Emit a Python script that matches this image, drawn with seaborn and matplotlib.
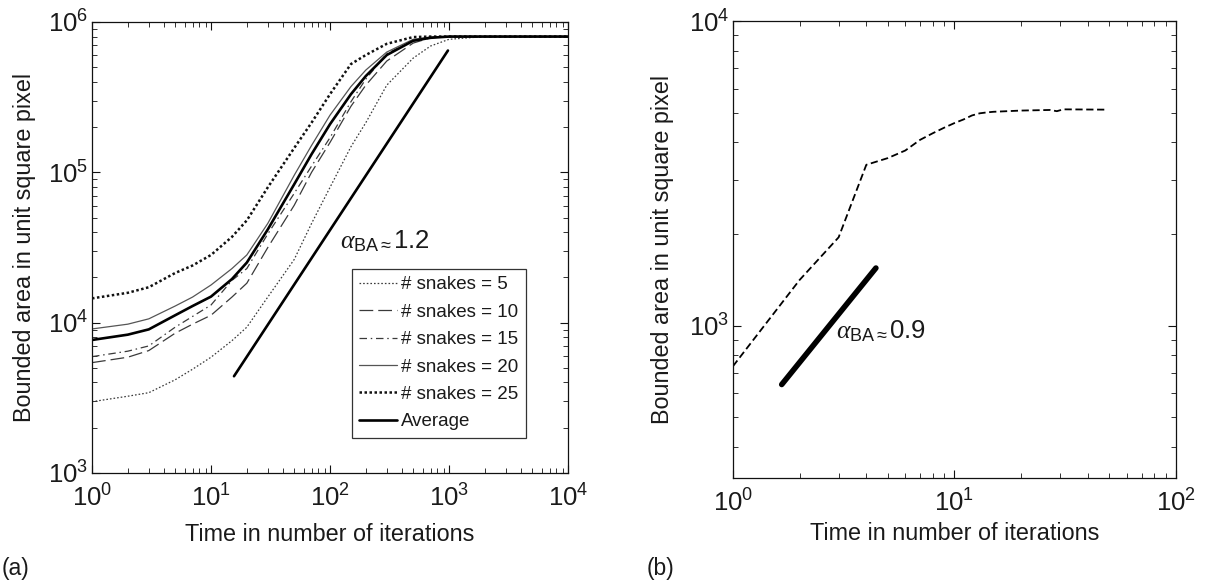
import matplotlib
matplotlib.use('Agg')
import numpy as np
import pandas as pd
import matplotlib.pyplot as plt
import seaborn as sns
from matplotlib.ticker import LogLocator, NullFormatter

# ---------------- data ----------------
# (a) bounded area vs. time for different numbers of snakes
t_a = [1, 2, 3, 5, 7, 10, 15, 20, 30, 50, 70, 100, 150, 200, 300, 500, 700, 1000, 2000, 10000]
snakes_5 = [2980, 3240, 3420, 4170, 4900, 5890, 7590, 9330, 14800, 26300, 45700, 79400,
            148000, 214000, 380000, 575000, 692000, 767000, 800000, 800000]
snakes_10 = [5420, 5890, 6520, 8510, 9770, 11200, 14800, 18300, 31600, 60300, 100000, 158000,
             275000, 380000, 550000, 724000, 785000, 800000, 800000, 800000]
snakes_15 = [5940, 6460, 7000, 9330, 11000, 13100, 19100, 22900, 38900, 72400, 110000, 170000,
             295000, 417000, 617000, 750000, 794000, 800000, 800000, 800000]
snakes_20 = [9080, 9770, 10600, 12900, 14800, 17800, 22900, 28200, 45700, 95500, 151000, 240000,
             372000, 479000, 631000, 767000, 794000, 800000, 800000, 800000]
snakes_25 = [14500, 15800, 17200, 21400, 24000, 28200, 37200, 47900, 79400, 145000, 214000, 331000,
             525000, 603000, 716000, 794000, 800000, 800000, 800000, 800000]
average = [7670, 8320, 9020, 11200, 12900, 14900, 19500, 25100, 41700, 83200, 132000, 209000,
           331000, 437000, 603000, 750000, 785000, 800000, 800000, 800000]
fit_a_t = [15.6, 980]
fit_a_area = [4400, 646000]
labels_a = ['# snakes = 5', '# snakes = 10', '# snakes = 15', '# snakes = 20', '# snakes = 25', 'Average']

# (b) single run
t_b = [1, 2, 3, 4, 5, 6, 7, 8, 9, 10, 11, 12, 13, 14, 15, 20, 27, 29, 31, 49]
area_b = [736, 1413, 1950, 3373, 3548, 3758, 4074, 4285, 4467, 4624, 4753, 4898, 4977, 5012,
          5035, 5082, 5105, 5058, 5129, 5117]
fit_b_t = [1.66, 4.42]
fit_b_area = [641, 1546]

# ---------------- style ----------------
sns.set_theme(style='white')
plt.rcParams['font.family'] = ['Liberation Sans', 'DejaVu Sans']
plt.rcParams['mathtext.fontset'] = 'custom'
plt.rcParams['mathtext.rm'] = 'Liberation Sans'
plt.rcParams['mathtext.it'] = 'Liberation Serif:italic'
plt.rcParams['mathtext.bf'] = 'Liberation Sans:bold'
TXT = '#1a1a1a'
plt.rcParams['text.color'] = TXT
plt.rcParams['axes.labelcolor'] = TXT

fig = plt.figure(figsize=(12.22, 5.85), dpi=100)
ax1 = fig.add_axes([0.0753, 0.1915, 0.3895, 0.7709])
ax2 = fig.add_axes([0.5998, 0.1829, 0.3625, 0.7812])

for ax in (ax1, ax2):
    ax.set_xscale('log')
    ax.set_yscale('log')

series_a = [snakes_5, snakes_10, snakes_15, snakes_20, snakes_25, average]
line_styles = [
    dict(color='#3a3a3a', lw=0.9, linestyle=(0, (1.3, 1.6))),
    dict(color='#3a3a3a', lw=0.9, linestyle=(0, (11, 4))),
    dict(color='#3a3a3a', lw=0.9, linestyle=(0, (6, 3, 1.2, 3))),
    dict(color='#555555', lw=0.9, linestyle='-'),
    dict(color='#111111', lw=1.8, linestyle=(0, (1, 1))),
    dict(color='#000000', lw=1.9, linestyle='-'),
]
for vals, lab, st in zip(series_a, labels_a, line_styles):
    sns.lineplot(x=t_a, y=vals, ax=ax1, label=lab, estimator=None, **st)
sns.lineplot(x=fit_a_t, y=fit_a_area, ax=ax1, color='black', lw=1.9, estimator=None, legend=False)

handles = ax1.get_lines()[:6]
leg = ax1.legend(handles, labels_a, loc='lower right', bbox_to_anchor=(0.9118, 0.0776),
                 borderaxespad=0, fontsize=13.5, frameon=True, fancybox=False,
                 edgecolor='#333333', framealpha=1, handlelength=2.0, handletextpad=0.25,
                 borderpad=0.4, labelspacing=0.55)
leg.get_frame().set_linewidth(0.9)
for txt in leg.get_texts():
    txt.set_color(TXT)

ax1.set_xlim(1, 1e4)
ax1.set_ylim(1e3, 1e6)

sns.lineplot(x=t_b, y=area_b, ax=ax2, color='black', lw=1.3, linestyle=(0, (4, 2)),
             estimator=None, legend=False)
sns.lineplot(x=fit_b_t, y=fit_b_area, ax=ax2, color='black', lw=4.0, estimator=None, legend=False)
ax2.set_xlim(1, 100)
ax2.set_ylim(10 ** 2.5, 1e4)

ax1.text(0.521, 0.497, r'$\alpha_{\mathrm{BA}\approx}$1.2', transform=ax1.transAxes,
         fontsize=18.5, va='baseline', ha='left', color=TXT)
ax2.text(0.2325, 0.306, r'$\alpha_{\mathrm{BA}\approx}$0.9', transform=ax2.transAxes,
         fontsize=18.5, va='baseline', ha='left', color=TXT)

for ax in (ax1, ax2):
    ax.xaxis.set_major_locator(LogLocator(base=10, numticks=20))
    ax.yaxis.set_major_locator(LogLocator(base=10, numticks=20))
    ax.xaxis.set_minor_locator(LogLocator(base=10, subs=np.arange(2, 10), numticks=20))
    ax.yaxis.set_minor_locator(LogLocator(base=10, subs=np.arange(2, 10), numticks=20))
    ax.xaxis.set_minor_formatter(NullFormatter())
    ax.yaxis.set_minor_formatter(NullFormatter())
    ax.tick_params(which='both', direction='in', top=True, right=True, bottom=True, left=True,
                   color='#111111')
    ax.tick_params(which='major', length=6, width=0.8, labelsize=18.5, labelcolor=TXT)
    ax.tick_params(which='minor', length=3.5, width=0.6)
    ax.tick_params(axis='x', which='major', pad=8)
    ax.tick_params(axis='y', which='major', pad=2.5)
    for sp in ax.spines.values():
        sp.set_visible(True)
        sp.set_color('#111111')
        sp.set_linewidth(0.9)
    ax.grid(False)
    ax.set_facecolor('white')
    ax.set_xlabel('Time in number of iterations', fontsize=16.8)
    ax.set_ylabel('Bounded area in unit square pixel', fontsize=16.8)

ax1.xaxis.set_label_coords(0.5, -0.11)
ax1.yaxis.set_label_coords(-0.118, 0.5)
ax2.xaxis.set_label_coords(0.5, -0.097)
ax2.yaxis.set_label_coords(-0.133, 0.5)

fig.text(0.001, 1 - 569 / 585, '(a)', fontsize=16.5, va='center', ha='left', color=TXT)
fig.text(647 / 1222, 1 - 569 / 585, '(b)', fontsize=16.5, va='center', ha='left', color=TXT)

fig.savefig('out.png', dpi=100, facecolor='white')
